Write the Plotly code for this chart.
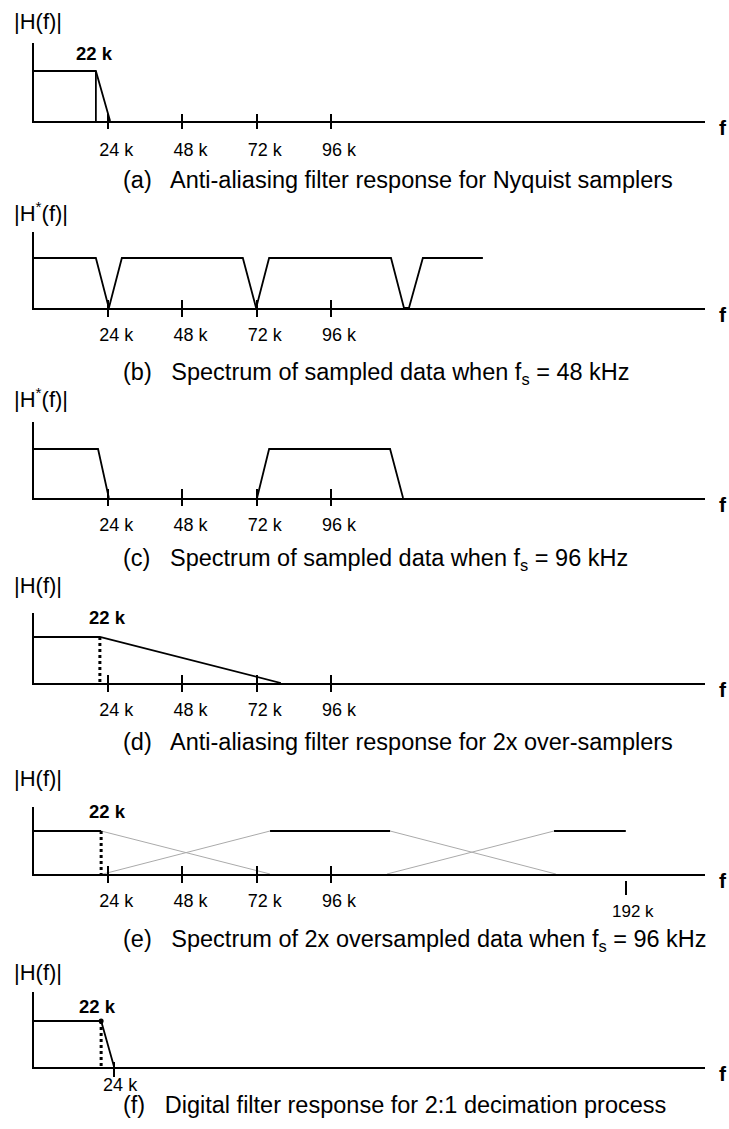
import plotly.graph_objects as go

W, H = 729, 1129
FONT = "Liberation Sans, Arial, Helvetica, sans-serif"

# ---------------- data (frequency in kHz, magnitude normalised: passband = 1) ----------------
TICK_VALS = [24, 48, 72, 96]
TICK_TEXT = ["24 k", "48 k", "72 k", "96 k"]
X_RANGE = [0, 216.9]

# (a) anti-aliasing filter, Nyquist sampler
A_X = [0, 20.0, 24.6]
A_Y = [1, 1, 0]
A_EDGE_X = [20.0, 20.0]
A_EDGE_Y = [1, 0]

# (b) spectrum of sampled data, fs = 48 kHz
B_X = [0, 20.0, 24.2, 28.4, 67.5, 71.8, 76.0, 115.4, 119.6, 121.2, 125.7, 145.1]
B_Y = [1, 1, 0, 1, 1, 0, 1, 1, 0, 0, 1, 1]

# (c) spectrum of sampled data, fs = 96 kHz
C_BASE_X = [0, 20.7, 24.2]
C_BASE_Y = [1, 1, 0]
C_IMAGE_X = [72.1, 76.0, 115.1, 119.3]
C_IMAGE_Y = [0, 1, 1, 0]

# (d) anti-aliasing filter, 2x over-sampler
D_X = [0, 21.3, 79.8]
D_Y = [1, 1, 0]
D_CUT_X = [21.3, 21.3]
D_CUT_Y = [1, 0]

# (e) spectrum of 2x oversampled data, fs = 96 kHz
E_PASS_X = [0, 21.7]
E_PASS_Y = [1, 1]
E_CUT_X = [21.7, 21.7]
E_CUT_Y = [1, 0]
E_IMG1_X = [76.3, 115.1]
E_IMG2_X = [168.1, 191.3]
E_IMG_Y = [1, 1]
E_ROLL1_X = [21.7, 76.3]
E_ROLL1_Y = [1, 0]
E_ROLL2_X = [22.3, 76.3]
E_ROLL2_Y = [0, 1]
E_ROLL3_X = [115.1, 168.7]
E_ROLL3_Y = [1, 0]
E_ROLL4_X = [114.1, 168.1]
E_ROLL4_Y = [0, 1]
E_FS2_TICK = [191.3]
E_FS2_TEXT = ["192 k"]

# (f) digital decimation filter
F_X = [0, 21.7, 25.9]
F_Y = [1, 1, 0]
F_CUT_X = [21.7, 21.7]
F_CUT_Y = [1, 0]
F_TICK = [25.9]
F_TICK_TEXT = ["24 k"]

EDGE_LABEL_X = [19.7, 23.6, 23.9, 20.4]   # where the "22 k" labels sit (a, d, e, f)

YLABELS = ["|H(f)|", "|H<sup>*</sup>(f)|", "|H<sup>*</sup>(f)|", "|H(f)|", "|H(f)|", "|H(f)|"]
CAPTIONS = [
    "(a)\u00a0\u00a0 Anti-aliasing filter response for Nyquist samplers",
    "(b)\u00a0\u00a0 Spectrum of sampled data when f<sub>s</sub> = 48 kHz",
    "(c)\u00a0\u00a0 Spectrum of sampled data when f<sub>s</sub> = 96 kHz",
    "(d)\u00a0\u00a0 Anti-aliasing filter response for 2x over-samplers",
    "(e)\u00a0\u00a0 Spectrum of 2x oversampled data when f<sub>s</sub> = 96 kHz",
    "(f)\u00a0\u00a0 Digital filter response for 2:1 decimation process",
]

# ---------------- layout geometry (pixels) ----------------
# baseline, passband level, axis top, y-label centre, caption centre, tick in, tick out, label standoff
GEOM = [
    (121, 71, 43, 22, 180, 7, 7, 11),
    (308, 258, 232, 212, 373, 8, 8, 9),
    (498, 449, 422, 398, 559, 9, 7, 9),
    (683, 637, 613, 585, 742, 8, 8, 9),
    (874, 831, 807, 778, 940, 8, 8, 9),
    (1067, 1021, 992, 972, 1105, 5, 9, 0),
]
X_LEFT, X_RIGHT = 34, 705
CAP_X = 121

BLACK = "#000000"
GRAY = "#aaaaaa"
CAP_SIZE = 23.5
TICK_SIZE = 18
EDGE_SIZE = 18.5
YLAB_SIZE = 22

fig = go.Figure()


def ax(panel):
    return "" if panel == 1 else str(panel)


def line(x, y, panel, color=BLACK, width=1.8, dash=None, mode="lines", marker=None, xa=None):
    fig.add_trace(go.Scatter(
        x=x, y=y, mode=mode, xaxis=xa or f"x{ax(panel)}", yaxis=f"y{ax(panel)}",
        line=dict(color=color, width=width, dash=dash),
        marker=marker, hoverinfo="skip", showlegend=False,
    ))


# panel a
line(A_X, A_Y, 1)
line(A_EDGE_X, A_EDGE_Y, 1)
# panel b
line(B_X, B_Y, 2)
# panel c
line(C_BASE_X, C_BASE_Y, 3)
line(C_IMAGE_X, C_IMAGE_Y, 3)
# panel d
line(D_X, D_Y, 4)
line(D_CUT_X, D_CUT_Y, 4, width=3, dash="dot")
# panel e
for rx, ry in [(E_ROLL1_X, E_ROLL1_Y), (E_ROLL2_X, E_ROLL2_Y),
               (E_ROLL3_X, E_ROLL3_Y), (E_ROLL4_X, E_ROLL4_Y)]:
    line(rx, ry, 5, color=GRAY, width=1)
line(E_PASS_X, E_PASS_Y, 5)
line(E_IMG1_X, E_IMG_Y, 5)
line(E_IMG2_X, E_IMG_Y, 5)
line(E_CUT_X, E_CUT_Y, 5, width=3, dash="dot")
# panel f
line(F_X, F_Y, 6)
line(F_CUT_X, F_CUT_Y, 6, width=3, dash="dot")
line(F_CUT_X[:1], F_CUT_Y[:1], 6, mode="markers", marker=dict(color=BLACK, size=5))

# invisible anchors so the overlaying tick axes get drawn
INVISIBLE = dict(color="rgba(0,0,0,0)", size=1)
for p in range(1, 7):
    tv = F_TICK if p == 6 else TICK_VALS
    line(tv, [0.5] * len(tv), p, mode="markers", marker=INVISIBLE, xa=f"x{p + 6}")
line(E_FS2_TICK, [0.5], 5, mode="markers", marker=INVISIBLE, xa="x13")

layout = dict(
    width=W, height=H, margin=dict(l=0, r=0, t=0, b=0),
    paper_bgcolor="white", plot_bgcolor="rgba(0,0,0,0)",
    showlegend=False, font=dict(family=FONT, color=BLACK),
)

annotations = []
tickfont = dict(family=FONT, size=TICK_SIZE, color=BLACK)

for i, (base, level, top, hy, cy, tin, tout, stand) in enumerate(GEOM):
    p = i + 1
    xs = ax(p)
    ymax = (base - top) / (base - level)
    is_f = p == 6
    tv = F_TICK if is_f else TICK_VALS
    tt = F_TICK_TEXT if is_f else TICK_TEXT
    common_x = dict(domain=[X_LEFT / W, X_RIGHT / W], range=X_RANGE,
                    showgrid=False, zeroline=False, fixedrange=True)
    layout[f"xaxis{xs}"] = dict(
        **common_x, anchor=f"y{xs}", showline=True, linecolor=BLACK, linewidth=2,
        ticks="inside", ticklen=tin, tickwidth=1.5, tickcolor=BLACK,
        tickmode="array", tickvals=tv, ticktext=tt, tickfont=tickfont,
        ticklabelshift=8 if not is_f else 6, ticklabelstandoff=stand,
    )
    layout[f"xaxis{p + 6}"] = dict(
        **common_x, anchor=f"y{xs}", overlaying=f"x{xs}", showline=False,
        ticks="outside", ticklen=tout, tickwidth=1.5, tickcolor=BLACK,
        tickmode="array", tickvals=tv, showticklabels=False,
    )
    layout[f"yaxis{xs}"] = dict(
        domain=[1 - base / H, 1 - top / H], range=[0, ymax], anchor=f"x{xs}",
        showline=True, linecolor=BLACK, linewidth=2, ticks="", showticklabels=False,
        showgrid=False, zeroline=False, fixedrange=True,
    )
    # y label
    annotations.append(dict(
        xref="paper", yref="paper", x=12 / W, y=1 - hy / H, xanchor="left", yanchor="middle",
        text=YLABELS[i], showarrow=False, font=dict(family=FONT, size=YLAB_SIZE, color=BLACK),
    ))
    # f label
    annotations.append(dict(
        xref="paper", yref="paper", x=723 / W, y=1 - (base + 6) / H, xanchor="center",
        yanchor="middle", text="<b>f</b>", showarrow=False,
        font=dict(family=FONT, size=21, color=BLACK),
    ))
    # caption
    annotations.append(dict(
        xref="paper", yref="paper", x=CAP_X / W, y=1 - cy / H, xanchor="left", yanchor="middle",
        text=CAPTIONS[i], showarrow=False, font=dict(family=FONT, size=CAP_SIZE, color=BLACK),
    ))

# "22 k" labels on panels a, d, e, f
LABEL_PANELS = [1, 4, 5, 6]
LABEL_PX_Y = [53, 617, 812, 1006]
for lx, p, py in zip(EDGE_LABEL_X, LABEL_PANELS, LABEL_PX_Y):
    base, level = GEOM[p - 1][0], GEOM[p - 1][1]
    xs = ax(p)
    annotations.append(dict(
        xref=f"x{xs}", yref=f"y{xs}", x=lx, y=(base - py) / (base - level),
        xanchor="center", yanchor="middle", text="<b>22 k</b>", showarrow=False,
        font=dict(family=FONT, size=EDGE_SIZE, color=BLACK),
    ))

# 192 k tick of panel e (detached, below the axis)
layout["xaxis13"] = dict(
    domain=[X_LEFT / W, X_RIGHT / W], range=X_RANGE, overlaying="x5", anchor="free",
    position=1 - 880 / H, showline=False, showgrid=False, zeroline=False,
    ticks="outside", ticklen=14, tickwidth=1.5, tickcolor=BLACK,
    tickmode="array", tickvals=E_FS2_TICK, ticktext=E_FS2_TEXT,
    tickfont=dict(family=FONT, size=17, color=BLACK),
    ticklabelshift=7, ticklabelstandoff=2, fixedrange=True,
)

layout["annotations"] = annotations
fig.update_layout(**layout)
fig.write_html("out.html", include_plotlyjs=True)
